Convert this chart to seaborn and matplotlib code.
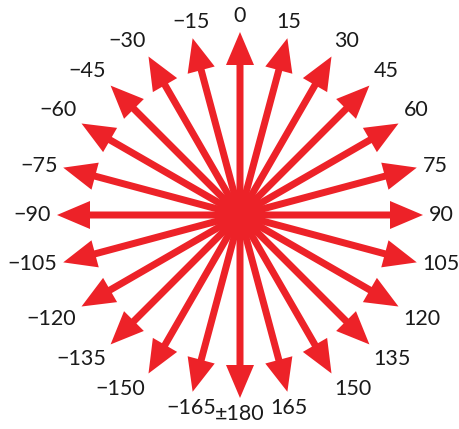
import numpy as np
import pandas as pd
import matplotlib
matplotlib.use("Agg")
import matplotlib.pyplot as plt
import seaborn as sns

# bearing angles (degrees, clockwise from straight up) and their labels
angles = [0, 15, 30, 45, 60, 75, 90, 105, 120, 135, 150, 165, 180,
          -165, -150, -135, -120, -105, -90, -75, -60, -45, -30, -15]
labels = ["0", "15", "30", "45", "60", "75", "90", "105", "120", "135", "150", "165", "±180",
          "−165", "−150", "−135", "−120", "−105", "−90", "−75", "−60", "−45", "−30", "−15"]

red = "#ED2228"
arrow_len = 183
label_r = 189

sns.set_theme(style="white")
plt.rcParams['font.family'] = ['Lato', 'DejaVu Sans']

fig = plt.figure(figsize=(4.59, 4.29), dpi=100)
ax = fig.add_axes([0, 0, 1, 1])

df = pd.DataFrame({"angle": angles, "label": labels})
df["rad"] = np.deg2rad(df["angle"])
df["dx"] = np.sin(df["rad"])
df["dy"] = np.cos(df["rad"])

for _, row in df.iterrows():
    ax.arrow(0, 0, arrow_len * row.dx, arrow_len * row.dy,
             width=7, head_width=28, head_length=33,
             length_includes_head=True, color=red, lw=0, zorder=2)

    # pick alignment from direction so the text sits just past the tip
    if row.dx > 0.3:
        ha = "left"
    elif row.dx < -0.3:
        ha = "right"
    else:
        ha = "center"
    if row.dy > 0.3:
        va = "bottom"
    elif row.dy < -0.3:
        va = "top"
    else:
        va = "center"
    ax.text(label_r * row.dx, label_r * row.dy, row.label,
            ha=ha, va=va, fontsize=15.5, fontweight="normal", color="#1a1a1a")

# hub in the middle
sns.scatterplot(x=[0], y=[0], s=1100, color=red, edgecolor="none", ax=ax, zorder=3)

ax.set_xlim(-240, 219)
ax.set_ylim(-214, 215)
ax.set_aspect("equal")
ax.axis("off")

fig.savefig("out.png", dpi=100)
